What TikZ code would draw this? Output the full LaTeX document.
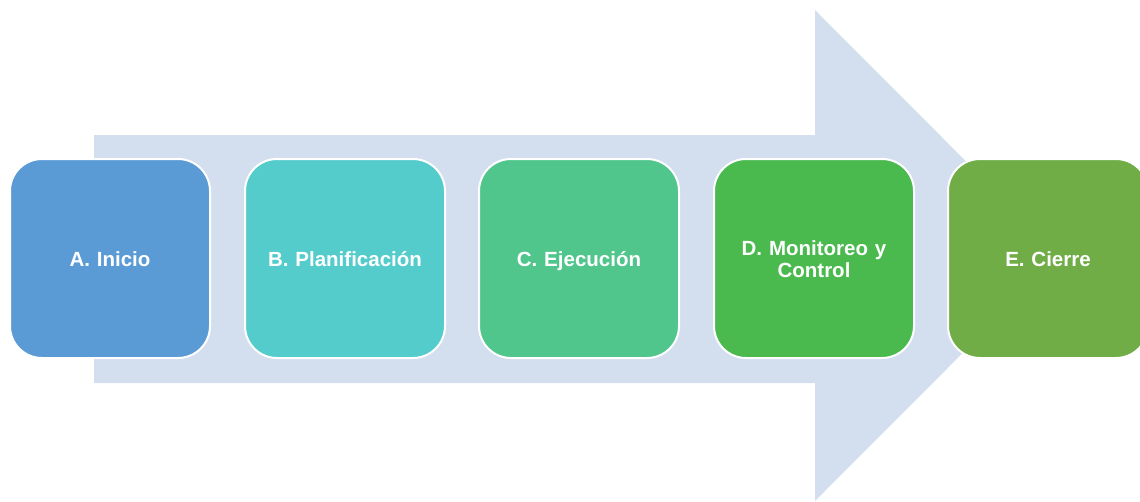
\documentclass[tikz,border=0pt]{standalone}
\usepackage{fontspec}
\setmainfont{Liberation Sans}
\definecolor{arrowfill}{HTML}{D3DEEE}
\definecolor{cA}{HTML}{5B9BD5}
\definecolor{cB}{HTML}{55CCCC}
\definecolor{cC}{HTML}{50C68D}
\definecolor{cD}{HTML}{4ABA4F}
\definecolor{cE}{HTML}{70AD47}
\newcommand\phstrut{\rule[-4.5pt]{0pt}{24pt}}
\tikzset{
  phase/.style={draw=white, line width=2pt, rounded corners=32pt,
    minimum width=200pt, minimum height=199pt, inner sep=0pt,
    text=white, font=\bfseries\fontsize{20.5}{22}\selectfont,
    align=center, text width=190pt}
}
\begin{document}
\begin{tikzpicture}[x=1pt,y=-1pt]
\useasboundingbox (0,0) rectangle (1140,501);
\clip (0,0) rectangle (1140,501);
% big arrow
\fill[arrowfill] (94,135) -- (815,135) -- (815,10) -- (1060,255.5) -- (815,501) -- (815,383) -- (94,383) -- cycle;
% phases
\node[phase, fill=cA] (a) at (110,258.5) {\phstrut A. Inicio};
\node[phase, fill=cB] (b) at (345,258.5) {\phstrut B. Planificación};
\node[phase, fill=cC] (c) at (579,258.5) {\phstrut C. Ejecución};
\node[phase, fill=cD] (d) at (814,258.5) {\phstrut D. Monitoreo y\\\rule[-4.5pt]{0pt}{19pt}Control};
\node[phase, fill=cE] (e) at (1048,258.5) {\phstrut E. Cierre};
\end{tikzpicture}
\end{document}
